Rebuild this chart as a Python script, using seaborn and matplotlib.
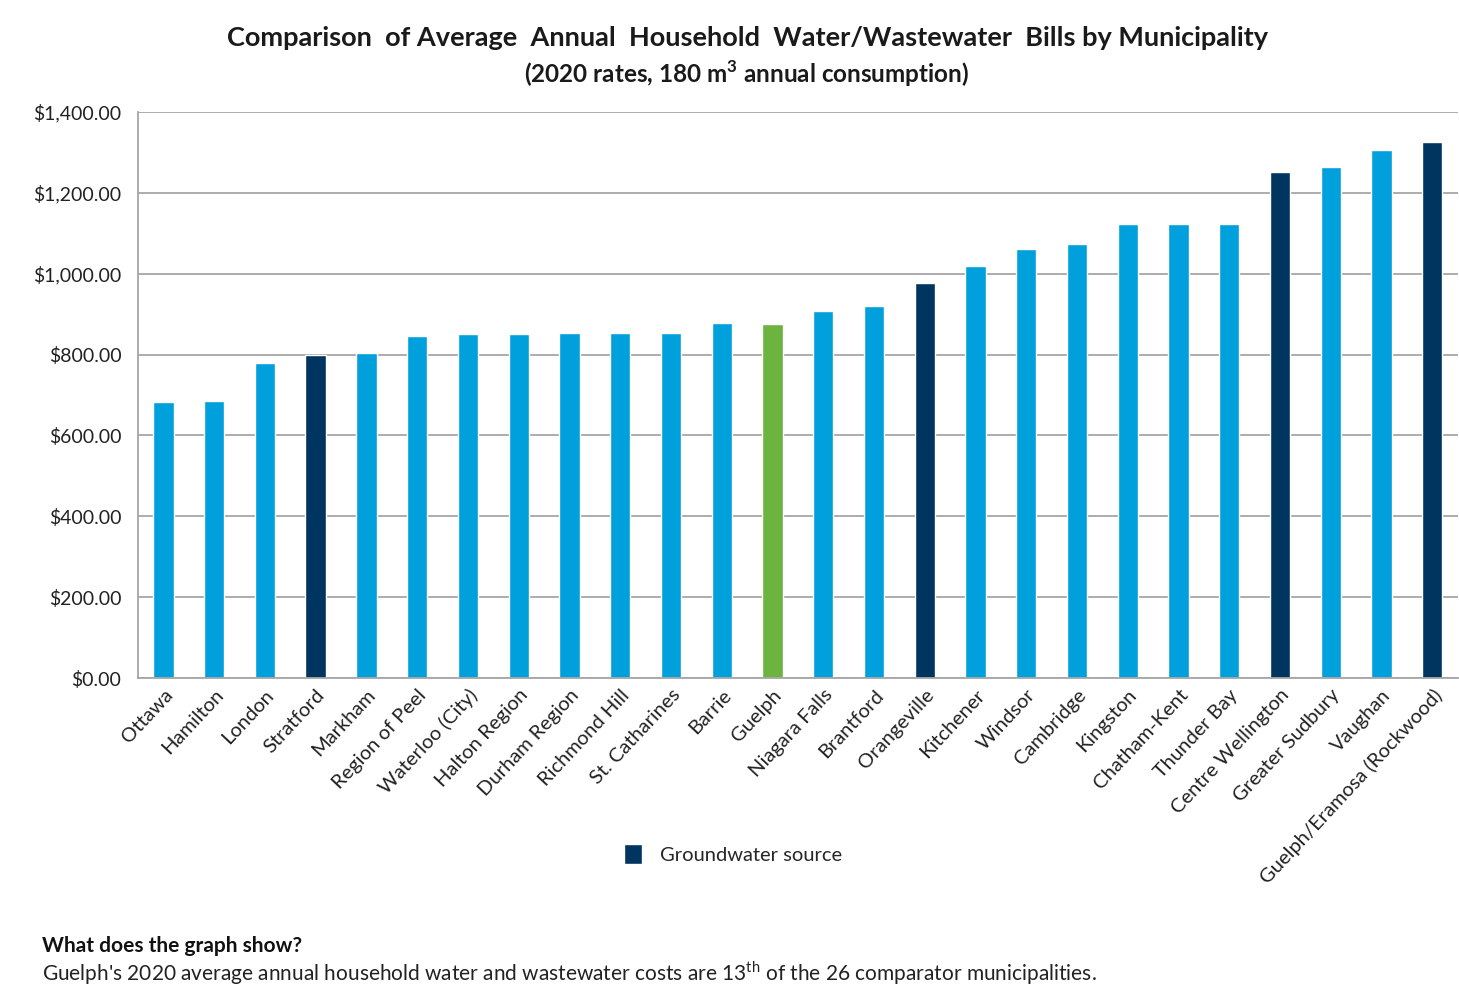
import matplotlib
matplotlib.use("Agg")
import matplotlib.pyplot as plt
from matplotlib.patches import Patch
from matplotlib.ticker import FuncFormatter, FixedLocator
import pandas as pd
import seaborn as sns

municipalities = [
    "Ottawa", "Hamilton", "London", "Stratford", "Markham", "Region of Peel",
    "Waterloo (City)", "Halton Region", "Durham Region", "Richmond Hill",
    "St. Catharines", "Barrie", "Guelph", "Niagara Falls", "Brantford",
    "Orangeville", "Kitchener", "Windsor", "Cambridge", "Kingston",
    "Chatham-Kent", "Thunder Bay", "Centre Wellington", "Greater Sudbury",
    "Vaughan", "Guelph/Eramosa (Rockwood)",
]
annual_bill = [
    683, 686, 778, 800, 804, 847, 850, 850, 854, 854, 854, 877, 876,
    908, 921, 977, 1020, 1062, 1074, 1122, 1122, 1122, 1251, 1263, 1305, 1326,
]
source_type = [
    "surface", "surface", "surface", "groundwater", "surface", "surface",
    "surface", "surface", "surface", "surface", "surface", "surface", "guelph",
    "surface", "surface", "groundwater", "surface", "surface", "surface",
    "surface", "surface", "surface", "groundwater", "surface", "surface",
    "groundwater",
]
y_ticks = [0, 200, 400, 600, 800, 1000, 1200, 1400]

palette = {"surface": "#00A0DC", "groundwater": "#003560", "guelph": "#6DB33F"}

df = pd.DataFrame({"municipality": municipalities, "bill": annual_bill, "source": source_type})

sns.set_style("white")
plt.rcParams["font.family"] = ["Lato", "DejaVu Sans"]
plt.rcParams["mathtext.fontset"] = "custom"
plt.rcParams["mathtext.rm"] = "Lato"
plt.rcParams["mathtext.bf"] = "Lato:bold"

fig = plt.figure(figsize=(14.59, 10.07), dpi=100)
ax = fig.add_axes([0.0946, 0.3267, 0.9044, 0.5621])

sns.barplot(data=df, x="municipality", y="bill", hue="source", palette=palette,
            dodge=False, width=0.4, legend=False, ax=ax, saturation=1)

ax.set_ylim(0, 1400)
ax.set_xlim(-0.5, len(municipalities) - 0.5)
ax.yaxis.set_major_locator(FixedLocator(y_ticks))
ax.yaxis.set_major_formatter(FuncFormatter(lambda v, _: f"${v:,.2f}"))
ax.grid(axis="y", color="#A6A6A6", linewidth=1.3)
ax.set_axisbelow(True)

for side in ["top", "right"]:
    ax.spines[side].set_visible(False)
for side in ["left", "bottom"]:
    ax.spines[side].set_color("#A6A6A6")
    ax.spines[side].set_linewidth(1.3)

ax.set_xlabel("")
ax.set_ylabel("")
ax.tick_params(axis="y", length=7, color="#A6A6A6", width=1.3, labelsize=14, pad=5)
ax.tick_params(axis="x", which="major", length=0, labelsize=14.5, pad=6)
ax.set_xticks([i + 0.5 for i in range(-1, len(municipalities))], minor=True)
ax.tick_params(axis="x", which="minor", length=6, color="#A6A6A6", width=1.3)
plt.setp(ax.get_xticklabels(), rotation=47, ha="right", rotation_mode="anchor", color="#222222")
plt.setp(ax.get_yticklabels(), color="#222222")

fig.text(0.512, 0.962, "Comparison  of Average  Annual  Household  Water/Wastewater  Bills by Municipality",
         ha="center", va="center", fontsize=19.5, fontweight="bold", color="#1a1a1a")
fig.text(0.512, 0.927, r"(2020 rates, 180 m$^{\mathbf{3}}$ annual consumption)",
         ha="center", va="center", fontsize=17.5, fontweight="bold", color="#1a1a1a")

fig.legend(handles=[Patch(facecolor=palette["groundwater"], label="Groundwater source")],
           loc="center left", bbox_to_anchor=(0.415, 0.152), frameon=False,
           fontsize=14.5, handlelength=0.9, handleheight=1.2, handletextpad=0.9)

fig.text(0.029, 0.061, "What does the graph show?", fontsize=15, fontweight="bold",
         va="center", color="#111111")
fig.text(0.029, 0.034,
         r"Guelph's 2020 average annual household water and wastewater costs are 13$^{\mathrm{th}}$ of the 26 comparator municipalities.",
         fontsize=15, va="center", color="#222222")

fig.savefig("out.png", dpi=100)
